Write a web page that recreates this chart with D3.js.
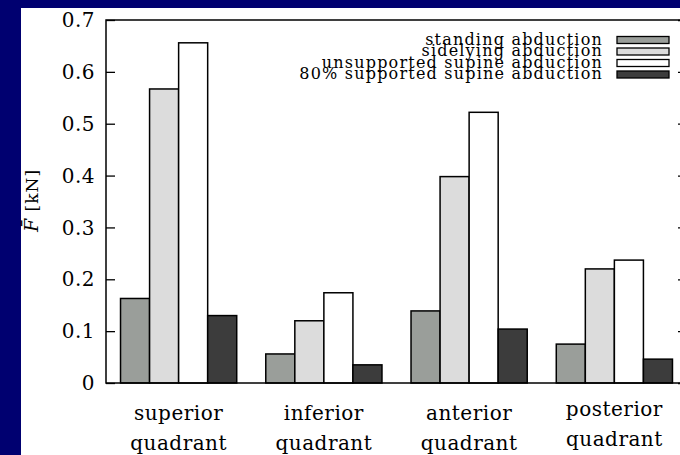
<!DOCTYPE html>
<meta charset="utf-8">
<script src="https://d3js.org/d3.v7.min.js"></script>
<style>
  body { margin: 0; background: #000070; }
  text { font-family: "DejaVu Serif", "Liberation Serif", serif; fill: #000; }
</style>
<div id="my_dataviz"></div>
<script>

// data
var quadrants = ["superior", "inferior", "anterior", "posterior"];
var series = ["standing abduction", "sidelying abduction", "unsupported supine abduction", "80% supported supine abduction"];
var standing    = [0.163, 0.056, 0.139, 0.075];
var sidelying   = [0.567, 0.120, 0.398, 0.220];
var unsupported = [0.656, 0.174, 0.522, 0.237];
var supported80 = [0.130, 0.035, 0.104, 0.046];
var yTicks = [0, 0.1, 0.2, 0.3, 0.4, 0.5, 0.6, 0.7];

var colors = ["#9a9e9a", "#dcdcdc", "#ffffff", "#3c3c3c"];
var allValues = [standing, sidelying, unsupported, supported80];

var W = 680, H = 455;
var margin = {top: 20, right: -7, bottom: 72, left: 106},
    width = W - margin.left - margin.right,
    height = H - margin.top - margin.bottom;

var root = d3.select("#my_dataviz")
  .append("svg")
    .attr("width", W)
    .attr("height", H);

// white page with the blue strip at top / left
root.append("rect")
    .attr("x", 21).attr("y", 8)
    .attr("width", W - 21).attr("height", H - 8)
    .attr("fill", "#fff");

var svg = root.append("g")
    .attr("transform", "translate(" + margin.left + "," + margin.top + ")");

var x0 = d3.scaleBand().domain(quadrants).range([0, width]).paddingInner(0.2).paddingOuter(0.1);
var x1 = d3.scaleBand().domain(series).range([0, x0.bandwidth()]);
var y = d3.scaleLinear().domain([0, 0.7]).range([height, 0]);

// bars
var groups = svg.selectAll("myGroups")
  .data(quadrants)
  .enter()
  .append("g")
    .attr("transform", function(d) { return "translate(" + x0(d) + ",0)"; });

groups.selectAll("rect")
  .data(function(q, qi) {
    return series.map(function(s, si) { return {s: s, i: si, v: allValues[si][qi]}; });
  })
  .enter()
  .append("rect")
    .attr("x", function(d) { return x1(d.s); })
    .attr("y", function(d) { return y(d.v); })
    .attr("width", x1.bandwidth())
    .attr("height", function(d) { return height - y(d.v); })
    .attr("fill", function(d) { return colors[d.i]; })
    .attr("stroke", "#000")
    .attr("stroke-width", 1.5);

// frame
svg.append("rect")
    .attr("width", width).attr("height", height)
    .attr("fill", "none")
    .attr("stroke", "#000")
    .attr("stroke-width", 1.5);

// left axis ticks (inward) and labels
svg.append("g")
  .call(d3.axisRight(y).tickValues(yTicks).tickSize(9).tickFormat(""))
  .call(function(g) { g.select(".domain").remove(); })
  .selectAll("line").attr("stroke", "#000").attr("stroke-width", 1.3);

svg.selectAll("yLabels")
  .data(yTicks)
  .enter()
  .append("text")
    .attr("x", -11)
    .attr("y", function(d) { return y(d); })
    .attr("dy", "0.36em")
    .attr("text-anchor", "end")
    .style("font-size", "20px")
    .style("letter-spacing", "0.5px")
    .text(function(d) { return d === 0 ? "0" : d3.format(".1f")(d); });

// right axis ticks (inward)
svg.append("g")
  .attr("transform", "translate(" + width + ",0)")
  .call(d3.axisLeft(y).tickValues(yTicks).tickSize(9).tickFormat(""))
  .call(function(g) { g.select(".domain").remove(); })
  .selectAll("line").attr("stroke", "#000").attr("stroke-width", 1.3);

// x labels
var xl = svg.selectAll("xLabels")
  .data(quadrants)
  .enter()
  .append("text")
    .attr("text-anchor", "middle")
    .style("font-size", "20px")
    .style("letter-spacing", "0.5px")
    .attr("transform", function(d, i) {
      return "translate(" + (x0(d) + x0.bandwidth() / 2) + "," + (height + (i === 3 ? 26 : 30)) + ")";
    });
xl.append("tspan").attr("x", 0).attr("dy", "0.35em").text(function(d) { return d; });
xl.append("tspan").attr("x", 0).attr("dy", "1.5em").text("quadrant");

// y axis title
var yt = svg.append("text")
    .attr("transform", "translate(-68," + (height / 2 - 1) + ") rotate(-90)")
    .attr("text-anchor", "middle")
    .style("font-size", "17px")
    .style("letter-spacing", "1px");
yt.append("tspan").style("font-style", "italic").style("font-size", "19px").text("F\u0304");
yt.append("tspan").text("  [kN]");

// legend
var legend = svg.selectAll("myLegend")
  .data(series)
  .enter()
  .append("g")
    .attr("transform", function(d, i) { return "translate(0," + (20 + i * 11.5) + ")"; });

legend.append("text")
    .attr("x", 497)
    .attr("dy", "0.3em")
    .attr("text-anchor", "end")
    .style("font-size", "16px")
    .style("letter-spacing", "1.2px")
    .text(function(d) { return d; });

legend.append("rect")
    .attr("x", 511)
    .attr("y", -3.5)
    .attr("width", 52)
    .attr("height", 7)
    .attr("fill", function(d, i) { return colors[i]; })
    .attr("stroke", "#000")
    .attr("stroke-width", 1.3);

</script>
